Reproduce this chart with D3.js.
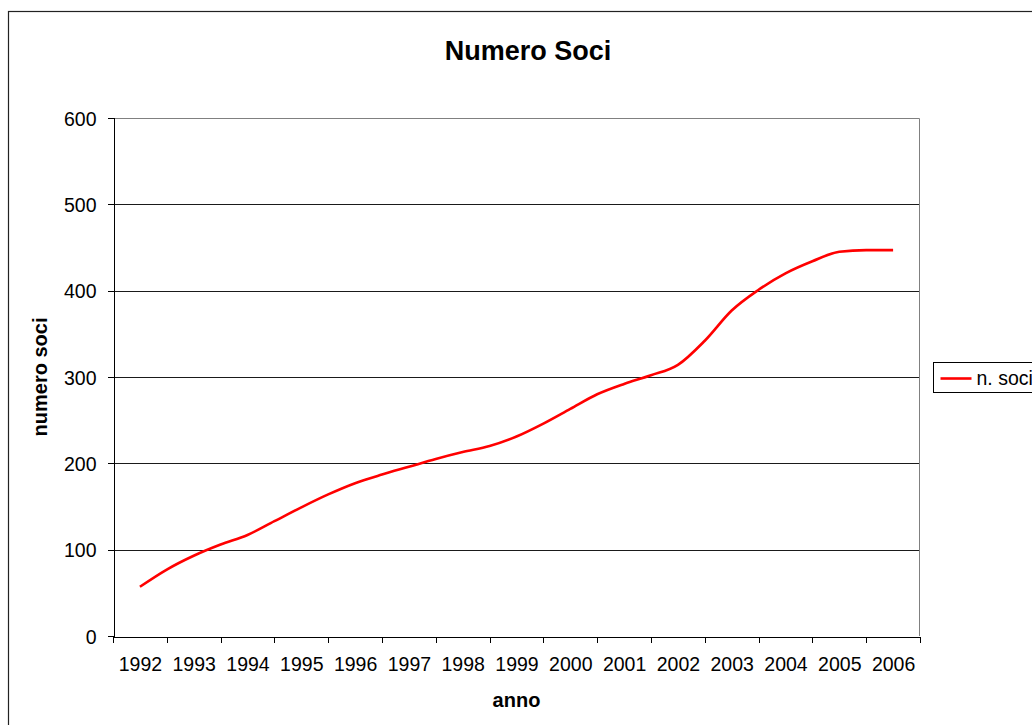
<!DOCTYPE html>
<html lang="it">
<head>
<meta charset="UTF-8">
<title>Numero Soci</title>
<script src="https://d3js.org/d3.v7.min.js"></script>
<style>
  body { margin: 0; background: #fff; }
  text { font-family: "Liberation Sans", Arial, sans-serif; fill: #000; }
  .axis path, .axis line { stroke: #000; shape-rendering: crispEdges; }
  .axis text { font-size: 19.5px; }
</style>
</head>
<body>
<svg id="chart" width="1032" height="725"></svg>
<script>
// categorie (anni) e tick dell'asse y
const anni = [1992, 1993, 1994, 1995, 1996, 1997, 1998, 1999, 2000, 2001, 2002, 2003, 2004, 2005, 2006];
const yTicks = [0, 100, 200, 300, 400, 500, 600];

// punti della serie "n. soci" (ogni mezzo anno)
const periodi = [1992, 1992.5, 1993, 1993.5, 1994, 1994.5, 1995, 1995.5, 1996, 1996.5,
                 1997, 1997.5, 1998, 1998.5, 1999, 1999.5, 2000, 2000.5, 2001, 2001.5,
                 2002, 2002.5, 2003, 2003.5, 2004, 2004.5, 2005, 2005.5, 2006];
const soci = [57, 77, 93, 106, 117, 133, 149, 164, 177, 187,
              196, 205, 213, 220, 231, 246, 263, 280, 292, 302,
              314, 342, 377, 401, 420, 434, 445, 447, 447];

const svg = d3.select("#chart");
const pLeft = 113, pRight = 920, pTop = 118, pBottom = 636;

// cornice esterna
svg.append("rect")
   .attr("x", 8.5).attr("y", 11.5)
   .attr("width", 1060).attr("height", 760)
   .attr("fill", "none").attr("stroke", "#222").attr("stroke-width", 1.2);

const x = d3.scaleLinear().domain([1991.5, 2006.5]).range([pLeft, pRight]);
const y = d3.scaleLinear().domain([0, 600]).range([pBottom, pTop]);

// griglia
svg.append("g")
   .selectAll("line")
   .data(yTicks.filter(d => d > 0 && d < 600))
   .join("line")
   .attr("x1", pLeft).attr("x2", pRight)
   .attr("y1", d => Math.round(y(d)) + 0.5).attr("y2", d => Math.round(y(d)) + 0.5)
   .attr("stroke", "#1a1a1a");

// bordo area del grafico (alto e destra)
svg.append("path")
   .attr("d", `M${pLeft},${pTop + 0.5}H${pRight - 0.5}V${pBottom}`)
   .attr("fill", "none").attr("stroke", "#808080");

// asse y
svg.append("g")
   .attr("class", "axis")
   .attr("transform", `translate(${pLeft + 0.5},0)`)
   .call(d3.axisLeft(y).tickValues(yTicks).tickSize(6).tickPadding(11))
   .call(g => g.selectAll("text").attr("dy", "0.36em"));

// asse x: tacche tra le categorie
const confini = anni.map(a => a - 0.5).concat([2006.5]);
svg.append("g")
   .attr("class", "axis")
   .attr("transform", `translate(0,${pBottom + 0.5})`)
   .call(d3.axisBottom(x).tickValues(confini).tickSize(6).tickFormat(""));

// etichette anni
svg.append("g")
   .attr("class", "axis")
   .attr("transform", `translate(0,${pBottom + 0.5})`)
   .call(d3.axisBottom(x).tickValues(anni).tickSize(0).tickPadding(21).tickFormat(d3.format("d")))
   .call(g => g.select(".domain").remove());

// linea
const dati = periodi.map((p, i) => ({ p, v: soci[i] }));
svg.append("path")
   .datum(dati)
   .attr("fill", "none")
   .attr("stroke", "#ff0000")
   .attr("stroke-width", 2.6)
   .attr("stroke-linejoin", "round")
   .attr("d", d3.line().x(d => x(d.p)).y(d => y(d.v)).curve(d3.curveMonotoneX));

// titoli
svg.append("text")
   .attr("x", 528).attr("y", 60)
   .attr("text-anchor", "middle")
   .style("font-size", "27px").style("font-weight", "bold")
   .text("Numero Soci");

svg.append("text")
   .attr("x", (pLeft + pRight) / 2).attr("y", 707)
   .attr("text-anchor", "middle")
   .style("font-size", "20px").style("font-weight", "bold")
   .text("anno");

svg.append("text")
   .attr("transform", `translate(47,${(pTop + pBottom) / 2}) rotate(-90)`)
   .attr("text-anchor", "middle")
   .style("font-size", "20px").style("font-weight", "bold")
   .text("numero soci");

// legenda
const leg = svg.append("g").attr("transform", "translate(933.5,362.5)");
leg.append("rect")
   .attr("width", 120).attr("height", 30)
   .attr("fill", "#fff").attr("stroke", "#000");
leg.append("line")
   .attr("x1", 7).attr("x2", 38).attr("y1", 16).attr("y2", 16)
   .attr("stroke", "#ff0000").attr("stroke-width", 2.6);
leg.append("text")
   .attr("x", 43).attr("y", 22.5)
   .style("font-size", "19.5px")
   .text("n. soci");
</script>
</body>
</html>
